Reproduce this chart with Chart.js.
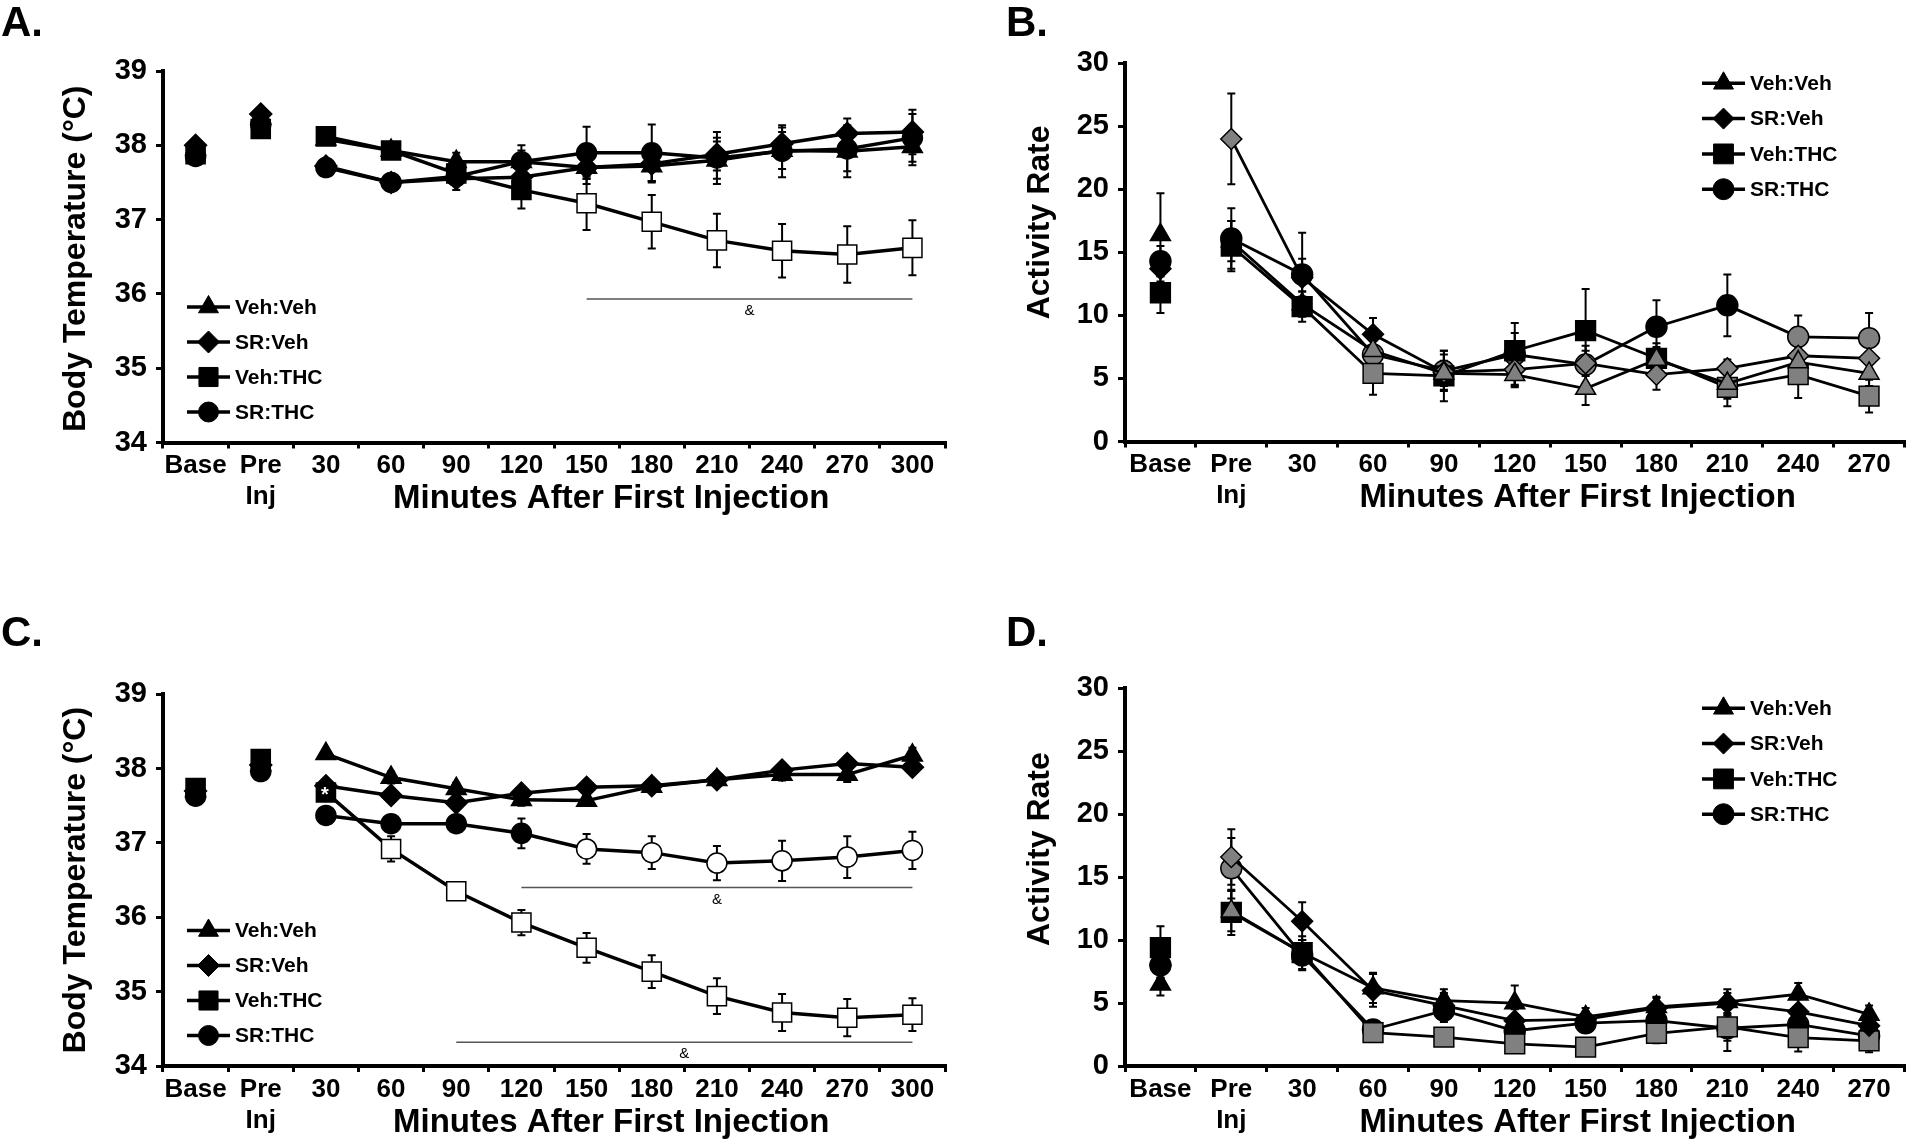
<!DOCTYPE html>
<html>
<head>
<meta charset="utf-8">
<script src="https://cdn.jsdelivr.net/npm/chart.js@4.4.0/dist/chart.umd.min.js"></script>
<style>
  html, body { margin: 0; padding: 0; background: #fff; }
  body { width: 1920px; height: 1146px; position: relative; overflow: hidden; font-family: "Liberation Sans", Arial, sans-serif; }
  .panel { position: absolute; }
  .letter { position: absolute; font-weight: bold; font-size: 42px; line-height: 1; z-index: 2; }
</style>
</head>
<body>
<div class="letter" style="left:1px;top:1px">A.</div>
<div class="letter" style="left:1006px;top:1px">B.</div>
<div class="letter" style="left:1px;top:611px">C.</div>
<div class="letter" style="left:1006px;top:611px">D.</div>

<div class="panel" style="left:0;top:0;width:960px;height:573px"><canvas id="chartA"></canvas></div>
<div class="panel" style="left:960px;top:0;width:960px;height:573px"><canvas id="chartB"></canvas></div>
<div class="panel" style="left:0;top:624px;width:960px;height:522px"><canvas id="chartC"></canvas></div>
<div class="panel" style="left:960px;top:624px;width:960px;height:522px"><canvas id="chartD"></canvas></div>

<script>
// ---- data ----
const tempLabels = ['Base', ['Pre', 'Inj'], '30', '60', '90', '120', '150', '180', '210', '240', '270', '300'];
const actLabels = ['Base', ['Pre', 'Inj'], '30', '60', '90', '120', '150', '180', '210', '240', '270'];
const groups = ['Veh:Veh', 'SR:Veh', 'Veh:THC', 'SR:THC'];
const tempRange = [34, 39];
const actRange = [0, 30];
const xTitle = 'Minutes After First Injection';
const tempTitle = 'Body Temperature (°C)';
const actTitle = 'Activity Rate';

// panel A: body temperature (rows follow groups)
const tempA_mean = [
  [37.95, 38.36, 38.08, 37.93, 37.78, 37.78, 37.70, 37.72, 37.80, 37.93, 37.92, 37.98],
  [38.00, 38.42, 37.72, 37.50, 37.55, 37.57, 37.70, 37.75, 37.88, 38.02, 38.16, 38.18],
  [37.88, 38.22, 38.12, 37.93, 37.62, 37.40, 37.22, 36.97, 36.72, 36.58, 36.53, 36.62],
  [37.85, 38.28, 37.70, 37.50, 37.58, 37.78, 37.90, 37.90, 37.83, 37.92, 37.95, 38.10]
];
const tempA_sem = [
  [0.05, 0.05, 0.05, 0.05, 0.12, 0.15, 0.15, 0.20, 0.25, 0.25, 0.35, 0.25],
  [0.05, 0.08, 0.06, 0.12, 0.15, 0.20, 0.22, 0.25, 0.22, 0.22, 0.20, 0.30],
  [0.05, 0.08, 0.08, 0.10, 0.10, 0.25, 0.36, 0.36, 0.36, 0.36, 0.38, 0.37],
  [0.05, 0.06, 0.06, 0.10, 0.10, 0.22, 0.35, 0.38, 0.35, 0.35, 0.30, 0.32]
];
const tempA_fill = ['kkkkkkkkkkkk', 'kkkkkkkkkkkk', 'kkkkkkwwwwww', 'kkkkkkkkkkkk'];
const tempA_sig = [{ from: 6, to: 11, at: 35.93 }];

// panel B: activity
const actB_mean = [
  [16.4, 15.9, 10.9, 7.2, 5.4, 5.3, 4.2, 6.5, 4.6, 6.3, 5.4],
  [13.7, 24.0, 13.0, 8.5, 5.5, 5.7, 6.2, 5.3, 5.8, 6.8, 6.6],
  [11.8, 15.5, 10.7, 5.4, 5.2, 7.2, 8.8, 6.6, 4.3, 5.3, 3.6],
  [14.3, 16.1, 13.25, 6.9, 5.6, 6.9, 6.1, 9.1, 10.8, 8.3, 8.2]
];
const actB_sem = [
  [3.3, 1.6, 1.0, 1.0, 1.0, 1.0, 1.3, 1.0, 1.2, 1.2, 1.0],
  [1.0, 3.6, 1.5, 1.3, 1.4, 1.2, 1.0, 1.2, 0.7, 0.8, 1.0],
  [1.6, 2.0, 1.2, 1.7, 2.0, 1.4, 3.3, 1.2, 1.5, 1.85, 1.3],
  [1.2, 2.4, 3.3, 1.2, 1.6, 2.5, 1.5, 2.1, 2.45, 1.7, 2.0]
];
const actB_fill = ['kkkgggggggg', 'kgkkggggggg', 'kkkgkkkkggg', 'kkkggggkkgg'];

// panel C: body temperature
const tempC_mean = [
  [37.70, 38.05, 38.20, 37.88, 37.73, 37.58, 37.57, 37.76, 37.85, 37.92, 37.92, 38.18],
  [37.70, 38.05, 37.77, 37.64, 37.54, 37.67, 37.75, 37.77, 37.85, 37.98, 38.07, 38.02],
  [37.74, 38.13, 37.68, 36.92, 36.35, 35.93, 35.59, 35.27, 34.94, 34.72, 34.65, 34.69],
  [37.63, 37.96, 37.37, 37.26, 37.26, 37.13, 36.92, 36.87, 36.73, 36.76, 36.81, 36.90]
];
const tempC_sem = [
  [0.04, 0.04, 0.06, 0.08, 0.08, 0.08, 0.06, 0.06, 0.06, 0.08, 0.10, 0.10],
  [0.04, 0.04, 0.08, 0.08, 0.06, 0.06, 0.05, 0.05, 0.05, 0.07, 0.08, 0.06],
  [0.04, 0.04, 0.08, 0.17, 0.08, 0.17, 0.20, 0.22, 0.24, 0.25, 0.25, 0.22],
  [0.04, 0.04, 0.10, 0.10, 0.10, 0.20, 0.20, 0.22, 0.23, 0.27, 0.28, 0.25]
];
const tempC_fill = ['kkkkkkkkkkkk', 'kkkkkkkkkkkk', 'kkkwwwwwwwww', 'kkkkkkwwwwww'];
const tempC_sig = [{ from: 5, to: 11, at: 36.40 }, { from: 4, to: 11, at: 34.32 }];
const tempC_star = [{ group: 2, index: 2 }];

// panel D: activity
const actD_mean = [
  [6.5, 12.3, 9.0, 6.2, 5.2, 5.0, 3.9, 4.7, 5.1, 5.7, 4.1],
  [8.0, 16.6, 11.5, 6.0, 4.8, 3.6, 3.7, 4.6, 5.0, 4.3, 3.2],
  [9.4, 12.2, 9.0, 2.65, 2.3, 1.75, 1.5, 2.6, 3.1, 2.25, 2.0],
  [8.0, 15.7, 8.8, 2.9, 4.4, 2.8, 3.4, 3.6, 3.0, 3.3, 2.4]
];
const actD_sem = [
  [0.9, 1.6, 1.0, 1.2, 0.9, 1.4, 0.7, 0.8, 1.0, 0.9, 0.7],
  [1.0, 2.2, 1.5, 1.3, 1.0, 0.9, 0.6, 0.8, 0.8, 1.0, 0.8],
  [1.7, 1.8, 1.3, 0.5, 0.5, 0.6, 0.6, 0.8, 1.9, 1.1, 0.9],
  [1.0, 2.4, 1.2, 0.5, 0.9, 0.8, 0.7, 0.8, 1.0, 0.9, 0.8]
];
const actD_fill = ['kgkkkkkkkkk', 'kgkkkkkkkkk', 'kkkgggggggg', 'kgkkkkkkkkk'];

// ---- drawing ----
const FONT = '"Liberation Sans", Arial, Helvetica, sans-serif';
Chart.defaults.font.family = FONT;
Chart.defaults.color = '#000';

const shapes = ['triangle', 'rectRot', 'rect', 'circle'];
const fillColors = { k: '#000000', g: '#808080', w: '#ffffff' };

const errorBars = {
  id: 'errorBars',
  beforeDatasetsDraw(chart, args, opts) {
    const { ctx } = chart;
    const y = chart.scales.y;
    ctx.save();
    ctx.strokeStyle = '#000';
    ctx.lineWidth = opts.width;
    chart.data.datasets.forEach((ds, i) => {
      chart.getDatasetMeta(i).data.forEach((pt, j) => {
        const hi = y.getPixelForValue(ds.data[j] + ds.sem[j]);
        const lo = y.getPixelForValue(ds.data[j] - ds.sem[j]);
        const c = opts.cap;
        ctx.beginPath();
        ctx.moveTo(pt.x, hi); ctx.lineTo(pt.x, lo);
        ctx.moveTo(pt.x - c, hi); ctx.lineTo(pt.x + c, hi);
        ctx.moveTo(pt.x - c, lo); ctx.lineTo(pt.x + c, lo);
        ctx.stroke();
      });
    });
    ctx.restore();
  }
};

const groupLegend = {
  id: 'groupLegend',
  afterDraw(chart, args, opts) {
    const { ctx, chartArea } = chart;
    const x0 = chartArea.left + opts.dx;
    const y0 = (opts.fromTop ? chartArea.top : chartArea.bottom) + opts.dy;
    ctx.save();
    chart.data.datasets.forEach((ds, i) => {
      const yy = y0 + i * opts.step;
      ctx.strokeStyle = '#000';
      ctx.lineWidth = 3.5;
      ctx.beginPath();
      ctx.moveTo(x0, yy);
      ctx.lineTo(x0 + 43, yy);
      ctx.stroke();
      ctx.fillStyle = '#000';
      ctx.lineWidth = 1;
      Chart.helpers.drawPoint(ctx, { pointStyle: ds.pointStyle, radius: ds.pointRadius, rotation: 0, borderWidth: 1 }, x0 + 21.5, yy);
      ctx.font = 'bold 21px ' + FONT;
      ctx.textAlign = 'left';
      ctx.textBaseline = 'middle';
      ctx.fillText(ds.label, x0 + 48, yy + 1);
    });
    ctx.restore();
  }
};

const sigMarks = {
  id: 'sigMarks',
  afterDatasetsDraw(chart, args, opts) {
    const { ctx } = chart;
    const { x, y } = chart.scales;
    ctx.save();
    (opts.bars || []).forEach(b => {
      const x1 = x.getPixelForValue(b.from);
      const x2 = x.getPixelForValue(b.to);
      const yy = y.getPixelForValue(b.at);
      ctx.strokeStyle = '#555';
      ctx.lineWidth = 1.5;
      ctx.beginPath();
      ctx.moveTo(x1, yy);
      ctx.lineTo(x2, yy);
      ctx.stroke();
      ctx.fillStyle = '#000';
      ctx.font = '15px ' + FONT;
      ctx.textAlign = 'center';
      ctx.textBaseline = 'middle';
      ctx.fillText('&', (x1 + x2) / 2, yy + 12);
    });
    (opts.stars || []).forEach(s => {
      const pt = chart.getDatasetMeta(s.group).data[s.index];
      ctx.fillStyle = '#fff';
      ctx.font = 'bold 20px ' + FONT;
      ctx.textAlign = 'center';
      ctx.textBaseline = 'middle';
      ctx.fillText('*', pt.x - 1, pt.y + 3);
    });
    ctx.restore();
  }
};

const axisTitles = {
  id: 'axisTitles',
  afterDraw(chart, args, opts) {
    const { ctx, chartArea } = chart;
    const x = chart.scales.x;
    const n = chart.data.labels.length;
    ctx.save();
    ctx.fillStyle = '#000';
    ctx.font = 'bold 33px ' + FONT;
    ctx.textAlign = 'center';
    ctx.textBaseline = 'alphabetic';
    const cx = (x.getPixelForValue(2) + x.getPixelForValue(n - 1)) / 2 - 8;
    ctx.fillText(opts.xText, cx, chartArea.bottom + 65.5);
    ctx.translate(chartArea.left + opts.yDx, (chartArea.top + chartArea.bottom) / 2 + opts.yDy);
    ctx.rotate(-Math.PI / 2);
    ctx.textBaseline = 'middle';
    ctx.font = 'bold 32px ' + FONT;
    ctx.fillText(opts.yText, 0, 0);
    ctx.restore();
  }
};

function buildPanel(id, labels, means, sems, fills, range, step, opt) {
  const datasets = groups.map((g, i) => ({
    label: g,
    data: means[i],
    sem: sems[i],
    pointStyle: shapes[i],
    pointRadius: opt.radii[i],
    pointBackgroundColor: fills[i].split('').map(c => fillColors[c]),
    pointBorderColor: '#000',
    pointBorderWidth: 1.5,
    borderColor: '#000',
    borderWidth: opt.lineWidth,
    tension: 0,
    segment: {
      borderColor: c => (c.p0DataIndex < opt.lineStart ? 'rgba(0,0,0,0)' : '#000')
    }
  }));

  return new Chart(document.getElementById(id).getContext('2d'), {
    type: 'line',
    data: { labels: labels, datasets: datasets },
    options: {
      responsive: true,
      maintainAspectRatio: false,
      animation: false,
      events: [],
      layout: { padding: { left: 0, right: opt.padRight, top: opt.top, bottom: 0 } },
      scales: {
        x: {
          type: 'category',
          offset: true,
          grid: { offset: true, drawOnChartArea: false, color: '#000', lineWidth: 3, tickLength: 6 },
          border: { color: '#000', width: 4 },
          ticks: { font: { size: 26, weight: 'bold' }, color: '#000', padding: 2, maxRotation: 0, autoSkip: false },
          afterFit: s => { s.height = opt.xHeight; }
        },
        y: {
          min: range[0],
          max: range[1],
          grid: { drawOnChartArea: false, color: '#000', lineWidth: 3, tickLength: 7 },
          border: { color: '#000', width: 4 },
          ticks: { stepSize: step, font: { size: 29, weight: 'bold' }, color: '#000', padding: 9 },
          afterFit: s => { s.width = opt.yWidth; }
        }
      },
      plugins: {
        legend: { display: false },
        tooltip: { enabled: false },
        errorBars: { width: 2, cap: 4 },
        groupLegend: opt.legend,
        sigMarks: { bars: opt.sig || [], stars: opt.stars || [] },
        axisTitles: { xText: xTitle, yText: opt.yTitle, yDx: opt.yDx, yDy: opt.yDy }
      }
    },
    plugins: [errorBars, sigMarks, groupLegend, axisTitles]
  });
}

const tempStyle = { radii: [11.5, 11, 13.5, 10], lineWidth: 3.5, lineStart: 2, padRight: 14, yWidth: 163 };
const actStyle = { radii: [11.5, 10.5, 14, 10.5], lineWidth: 2.8, lineStart: 1, padRight: 3, yWidth: 165 };

buildPanel('chartA', tempLabels, tempA_mean, tempA_sem, tempA_fill, tempRange, 1, Object.assign({}, tempStyle, {
  top: 71, xHeight: 130.5, yTitle: tempTitle, yDx: -87, yDy: 2, sig: tempA_sig,
  legend: { fromTop: false, dx: 24, dy: -135.5, step: 35 }
}));

buildPanel('chartB', actLabels, actB_mean, actB_sem, actB_fill, actRange, 5, Object.assign({}, actStyle, {
  top: 63.3, xHeight: 131.5, yTitle: actTitle, yDx: -85, yDy: -30,
  legend: { fromTop: true, dx: 577, dy: 20, step: 35.3 }
}));

buildPanel('chartC', tempLabels, tempC_mean, tempC_sem, tempC_fill, tempRange, 1, Object.assign({}, tempStyle, {
  top: 70.3, xHeight: 80, yTitle: tempTitle, yDx: -87, yDy: 0, sig: tempC_sig, stars: tempC_star,
  legend: { fromTop: false, dx: 24, dy: -135.5, step: 35 }
}));

buildPanel('chartD', actLabels, actD_mean, actD_sem, actD_fill, actRange, 5, Object.assign({}, actStyle, {
  top: 64.3, xHeight: 80, yTitle: actTitle, yDx: -85, yDy: -28,
  legend: { fromTop: true, dx: 577, dy: 20, step: 35.3 }
}));
</script>
</body>
</html>
